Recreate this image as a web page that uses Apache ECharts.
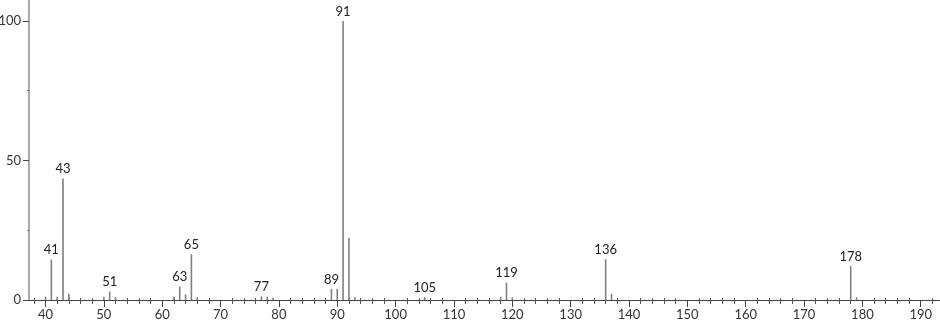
<!DOCTYPE html>
<html>
<head>
<meta charset="utf-8">
<script src="https://cdn.jsdelivr.net/npm/echarts@6/dist/echarts.min.js"></script>
<style>html,body{margin:0;padding:0;background:#fff}#c{width:940px;height:323px}</style>
</head>
<body>
<div id="c"></div>
<script>
const mz =        [40, 41,   42,  43,   44,  50,  51,  52,  62,  63,  64,  65,   66,  77,  78,  79,  89,  90,  91,  92,   93,  105, 118, 119, 120, 136,  137, 178,  179];
const intensity = [1.2,14.5, 1.2, 43.5, 2.2, 1.2, 3.0, 1.0, 1.2, 4.8, 2.0, 16.4, 1.0, 1.3, 1.2, 0.8, 4.0, 4.0, 100, 22.2, 1.0, 1.0, 1.2, 6.2, 1.0, 14.6, 2.2, 12.2, 1.0];
const labeled = [41, 43, 51, 63, 65, 77, 89, 91, 105, 119, 136, 178];
const xTickLabels = [40, 50, 60, 70, 80, 90, 100, 110, 120, 130, 140, 150, 160, 170, 180, 190];
const xMinorTicks = [];
for (let v = 38; v <= 192; v += 2) if (v % 10 !== 0) xMinorTicks.push(v);
const yTickLabels = [0, 50, 100];
const yMinorTicks = [25, 75];

const FONT = 'Lato';
const data = mz.map((m, i) => ({
  value: [m, intensity[i]],
  label: { show: labeled.includes(m) }
}));

const xMin = 37.17, xMax = 193.3;
const baseX = {
  type: 'value', min: xMin, max: xMax, position: 'bottom',
  splitLine: { show: false }
};
const chart = echarts.init(document.getElementById('c'));
chart.setOption({
  animation: false,
  grid: { left: 29, right: 0, top: 0, bottom: 23, containLabel: false, outerBoundsMode: 'none' },
  xAxis: [
    Object.assign({}, baseX, {
      axisLine: { show: true, lineStyle: { color: '#444', width: 1 } },
      axisTick: { show: true, inside: false, length: 7, lineStyle: { color: '#444' }, customValues: xTickLabels },
      axisLabel: { show: true, customValues: xTickLabels, margin: 8, color: '#333', fontFamily: FONT, fontSize: 13 }
    }),
    Object.assign({}, baseX, {
      axisLine: { show: false },
      axisTick: { show: true, inside: false, length: 4, lineStyle: { color: '#555' }, customValues: xMinorTicks },
      axisLabel: { show: false }
    }),
    Object.assign({}, baseX, {
      axisLine: { show: false },
      axisTick: { show: true, inside: true, length: 2, lineStyle: { color: '#555' }, customValues: xMinorTicks },
      axisLabel: { show: false }
    })
  ],
  yAxis: [
    {
      type: 'value', min: 0, max: 107.5, position: 'left',
      splitLine: { show: false },
      axisLine: { show: true, lineStyle: { color: '#aaa', width: 2 } },
      axisTick: { show: true, length: 6, lineStyle: { color: '#444' }, customValues: yTickLabels },
      axisLabel: { show: true, customValues: yTickLabels, margin: 8, color: '#333', fontFamily: FONT, fontSize: 13 }
    },
    {
      type: 'value', min: 0, max: 107.5, position: 'left', offset: 0,
      splitLine: { show: false },
      axisLine: { show: false },
      axisTick: { show: true, inside: false, length: 2, lineStyle: { color: '#777' }, customValues: yMinorTicks },
      axisLabel: { show: false }
    }
  ],
  series: [{
    type: 'bar',
    xAxisIndex: 0, yAxisIndex: 0,
    barWidth: 1.6,
    itemStyle: { color: '#808080' },
    label: {
      position: 'top', distance: 3, color: '#222', fontFamily: FONT, fontSize: 13,
      formatter: p => String(p.value[0])
    },
    data: data
  }]
});
</script>
</body>
</html>
